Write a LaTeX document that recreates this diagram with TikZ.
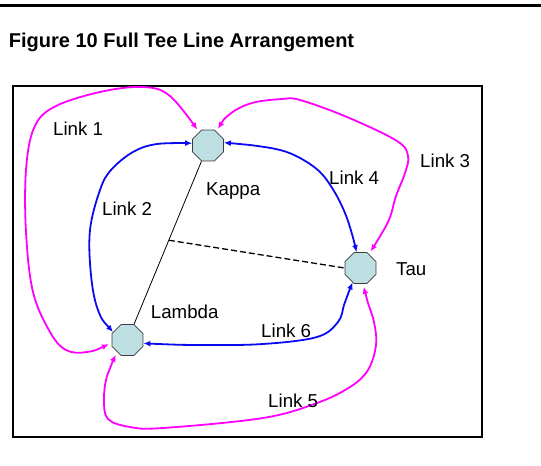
\documentclass[tikz,border=0pt]{standalone}
\usepackage{fontspec}
\setmainfont{Liberation Sans}
\usetikzlibrary{shapes.geometric,arrows.meta}
\definecolor{linkpink}{RGB}{255,0,255}
\definecolor{linkblue}{RGB}{10,10,240}
\definecolor{sitefill}{RGB}{189,223,226}
\definecolor{siteedge}{RGB}{60,60,60}

\begin{document}
\begin{tikzpicture}[x=1pt,y=-1pt,
  site/.style={regular polygon, regular polygon sides=8, minimum size=33.5pt,
    inner sep=0pt, fill=sitefill, draw=siteedge, line width=0.8pt},
  lbl/.style={anchor=base west, inner sep=0pt, font=\fontsize{18.7}{22}\selectfont},
  tip/.tip={Latex[length=7pt,width=6pt]},
  bluelink/.style={draw=linkblue, line width=1.8pt, {tip}-{tip}},
  pinklink/.style={draw=linkpink, line width=1.8pt, {tip}-{tip},
    shorten <=3pt, shorten >=3pt},
]
\useasboundingbox (0,0) rectangle (541,466);

% heading rule and caption
\draw[line width=3pt] (0,5) -- (541,5);
\node[anchor=base west, inner sep=0pt, font=\fontsize{20}{24}\selectfont\bfseries]
  (title) at (8.7,47.5) {Figure 10 Full Tee Line Arrangement};

% frame
\draw[line width=1.5pt] (13,86) rectangle (482,437);

% sites
\node[site] (Kappa)  at (208,145.5) {};
\node[site] (Lambda) at (127.5,340) {};
\node[site] (Tau)    at (360.5,268) {};

\node[lbl] (kappaLbl)  at (206,195.4) {Kappa};
\node[lbl] (lambdaLbl) at (150.7,318.8) {Lambda};
\node[lbl] (tauLbl)    at (396,275.6) {Tau};

% tee line
\draw[line width=0.8pt] (Kappa) -- (Lambda);
\path (Kappa.center) -- (Lambda.center) coordinate[pos=0.487] (tee);
\draw[line width=1.3pt, dash pattern=on 6pt off 3pt] (tee) -- (Tau.west);

% link 1
\draw[pinklink] plot[smooth, tension=0.6] coordinates {
  (Lambda.190) (87,352) (66,350) (50,332) (33,292) (26,232) (26,170)
  (34,128) (54,107) (100,92) (143,87) (170,96) (Kappa.124)};
% link 2
\draw[bluelink] plot[smooth, tension=0.6] coordinates {
  (Lambda.151) (98,310) (91,275) (90,230) (100,190) (111,170)
  (133,152) (157,144) (Kappa.172)};
% link 3
\draw[pinklink] plot[smooth, tension=0.6] coordinates {
  (Kappa.59) (230,114) (252,103) (282,99) (300,100) (347,117)
  (397,141) (408,156) (405,173) (396,196) (388,222) (Tau.59)};
% link 4
\draw[bluelink] plot[smooth, tension=0.6] coordinates {
  (Kappa.10) (250,145) (280,150) (300,158) (320,172) (334,191)
  (345,213) (352,234) (Tau.104)};
% link 5
\draw[pinklink] plot[smooth, tension=0.6] coordinates {
  (Lambda.230) (107,376) (104,400) (108,419) (130,427) (163,428)
  (263,418) (317,403) (350,387) (368,370) (376,345) (374,322) (368,303) (Tau.279)};
% link 6
\draw[bluelink] plot[smooth, tension=0.6] coordinates {
  (Lambda.348) (200,345) (263,344) (317,337) (338,322) (344,305)
  (348,294) (Tau.241)};

% link labels
\node[lbl] (l1) at (53,135)  {Link 1};
\node[lbl] (l2) at (102,215) {Link 2};
\node[lbl] (l3) at (420,167) {Link 3};
\node[lbl] (l4) at (329,184) {Link 4};
\node[lbl] (l5) at (268,407) {Link 5};
\node[lbl] (l6) at (261,337) {Link 6};
\end{tikzpicture}
\end{document}
